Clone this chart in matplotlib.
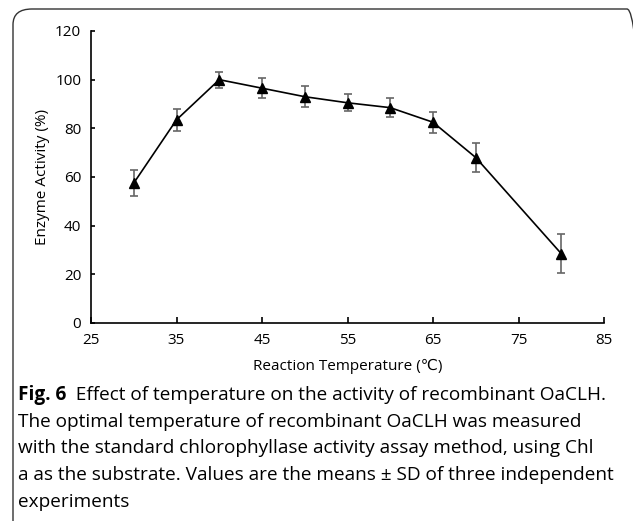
import matplotlib.pyplot as plt
from matplotlib.patches import FancyBboxPatch

temps = [30, 35, 40, 45, 50, 55, 60, 65, 70, 80]
activity = [57.5, 83.5, 100, 96.5, 93, 90.5, 88.5, 82.5, 68, 28.5]
sd = [5.5, 4.5, 3.3, 4.0, 4.2, 3.5, 4.0, 4.3, 6.0, 8.0]

xticks = [25, 35, 45, 55, 65, 75, 85]
yticks = [0, 20, 40, 60, 80, 100, 120]

fonts = ["Open Sans", "DejaVu Sans", "Noto Sans CJK SC"]

W, H = 633, 521
fig = plt.figure(figsize=(W / 100, H / 100), dpi=100)

# rounded frame around the figure panel
frame = FancyBboxPatch((13 / W, -0.05), 1.0, 1 - 9 / H + 0.05,
                       boxstyle="round,pad=0,rounding_size=0.03",
                       transform=fig.transFigure, fill=False,
                       edgecolor="#333333", linewidth=1.0)
fig.patches.append(frame)

ax = fig.add_axes([91 / W, 1 - 323 / H, (604 - 91) / W, (323 - 31) / H])
ax.errorbar(temps, activity, yerr=sd, fmt="none", ecolor="#666666",
            elinewidth=1.2, capsize=3, capthick=1.2, zorder=2)
ax.plot(temps, activity, color="black", linewidth=1.2, marker="^",
        markersize=7, zorder=3)

ax.set_xlim(25, 85)
ax.set_ylim(0, 120)
ax.set_xticks(xticks)
ax.set_yticks(yticks)
for s in ["top", "right"]:
    ax.spines[s].set_visible(False)
for s in ["left", "bottom"]:
    ax.spines[s].set_linewidth(1.2)
ax.tick_params(axis="x", direction="in", length=4, width=1.2, labelsize=11, pad=7)
ax.tick_params(axis="y", direction="in", length=3, width=1.2, labelsize=11, pad=7)
for lbl in ax.get_xticklabels() + ax.get_yticklabels():
    lbl.set_family(fonts)

ax.set_xlabel("Reaction Temperature (℃)", fontsize=11, family=fonts, labelpad=8)
ax.set_ylabel("Enzyme Activity (%)", fontsize=11, family=fonts, labelpad=4)

caption = [
    ("Fig. 6", "  Effect of temperature on the activity of recombinant OaCLH."),
    ("", "The optimal temperature of recombinant OaCLH was measured"),
    ("", "with the standard chlorophyllase activity assay method, using Chl"),
    ("", "a as the substrate. Values are the means ± SD of three independent"),
    ("", "experiments"),
]
y0 = 395
for i, (bold, rest) in enumerate(caption):
    y = 1 - (y0 + i * 26.7) / H
    if bold:
        t = fig.text(18 / W, y, bold, fontsize=13.7, fontweight="bold",
                     family=fonts, va="center")
        fig.canvas.draw()
        bb = t.get_window_extent()
        fig.text(bb.x1 / W, y, rest, fontsize=13.7, family=fonts, va="center")
    else:
        fig.text(18 / W, y, rest, fontsize=13.7, family=fonts, va="center")

fig.savefig("out.png", dpi=100)
